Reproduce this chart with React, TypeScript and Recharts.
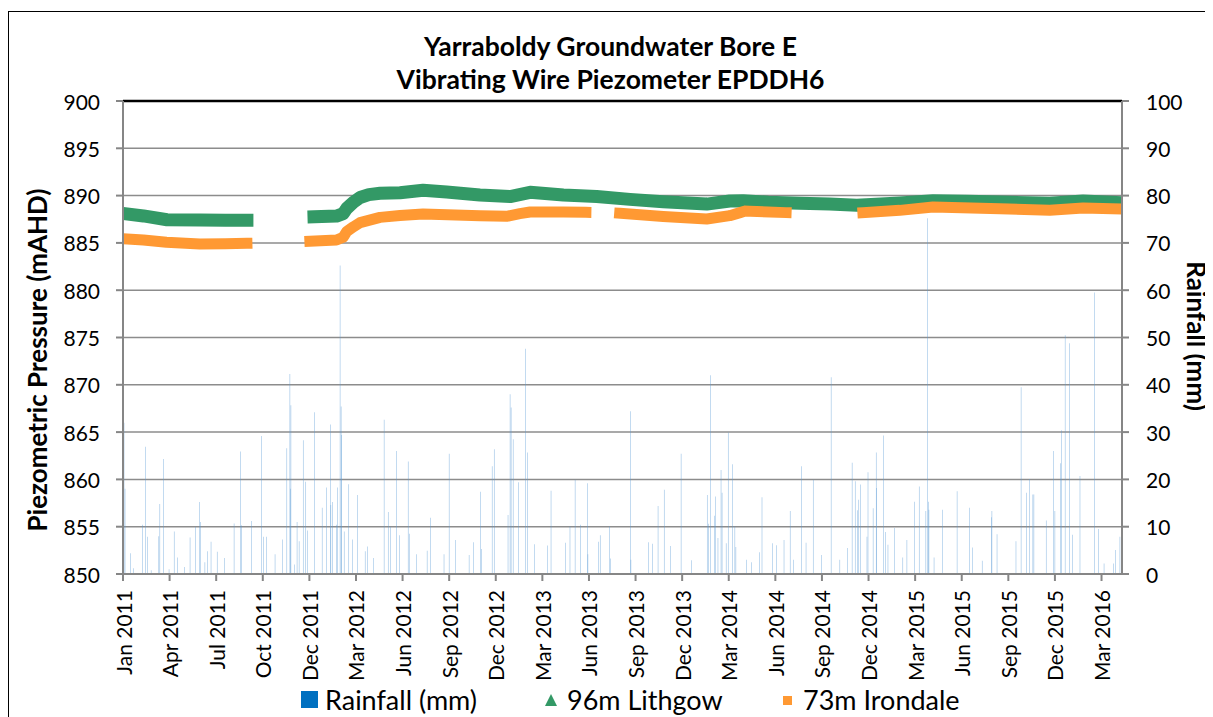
import { ComposedChart, Bar, Line, XAxis, YAxis, CartesianGrid, ReferenceLine } from 'recharts'

// days counted from 1 Jan 2011
const RAIN_DAYS = [
  2, 4, 15, 20, 38, 44, 48, 55, 70, 72, 79, 90, 100, 106, 120, 131, 142, 149, 151, 160,
  165, 172, 184, 198, 217, 229, 231, 251, 271, 274, 280, 297, 312, 320, 326, 327, 328,
  335, 340, 344, 352, 357, 360, 374, 389, 398, 405, 406, 409, 417, 419, 424, 426, 427,
  432, 441, 448, 458, 473, 478, 489, 510, 518, 522, 534, 540, 557, 559, 573, 594, 601,
  627, 637, 649, 676, 685, 698, 700, 721, 725, 752, 756, 758, 762, 772, 786, 790, 804,
  829, 836, 864, 873, 883, 894, 907, 908, 929, 932, 950, 952, 991, 992, 1026, 1034,
  1045, 1057, 1069, 1090, 1110, 1141, 1143, 1147, 1155, 1157, 1162, 1168, 1170, 1178,
  1182, 1190, 1195, 1197, 1218, 1227, 1243, 1248, 1268, 1276, 1291, 1303, 1310, 1325,
  1334, 1348, 1364, 1383, 1400, 1415, 1424, 1430, 1434, 1437, 1440, 1453, 1455, 1465,
  1471, 1472, 1485, 1489, 1494, 1507, 1523, 1531, 1546, 1555, 1568, 1571, 1573, 1574,
  1584, 1600, 1629, 1653, 1659, 1678, 1696, 1697, 1707, 1744, 1754, 1765, 1770, 1777,
  1779, 1803, 1817, 1820, 1831, 1833, 1840, 1848, 1854, 1869, 1897, 1905, 1916, 1934,
  1938, 1947,
]
const RAIN_MM = [
  32, 18, 4.4, 1.2, 10.4, 26.9, 7.9, 0.8, 8, 14.8, 24.3, 1, 9, 3.5, 1.5, 7.7, 10, 15.2, 11, 2.5,
  4.8, 6.8, 4.7, 3.4, 10.7, 25.9, 10.3, 11.2, 29.2, 7.9, 7.9, 4.2, 7.3, 26.6, 42.3, 18, 35.7,
  2, 11, 6.9, 28.3, 19.5, 9.2, 34.2, 14, 18.3, 31.6, 14.6, 15.2, 10.4, 18.3, 65.2, 35.4, 29.4,
  9, 19, 7.3, 16.7, 4.8, 5.8, 3.4, 32.6, 13.1, 10, 26, 8.2, 23.8, 8.5, 4.2, 4.9, 11.9,
  4.2, 25.4, 7.2, 4, 6.7, 17.4, 5.3, 22.8, 26.4, 12.5, 38, 35.2, 28.5, 19.4, 47.6, 25.7, 6.3,
  6, 17.6, 6.6, 10.1, 19.9, 10.4, 19.2, 4.2, 6.8, 8.2, 10.1, 3.3, 34.4, 3, 6.7, 6.4,
  14.4, 17.8, 5.9, 25.4, 2.9, 16.7, 10.6, 42, 12.3, 16.4, 7.6, 22, 17.2, 6.5,
  29.9, 23.2, 10.1, 5.7, 3, 2.5, 4.6, 16.2, 6.5, 6.1, 7.2, 13.3, 3, 22.8,
  6.6, 19.9, 4, 41.6, 3, 5.5, 23.5, 19.6, 13.5, 15.7, 18.9, 7.9, 21.5, 13.9,
  25.7, 18.2, 29.3, 8.9, 6.2, 9.7, 3.5, 7.2, 15.3, 18.5, 13.3, 75.2, 15.3, 13.6,
  3.5, 13.6, 17.5, 14, 5.6, 2.8, 12, 13.3, 8.4, 6.9, 39.5, 17.2, 20.1, 16.8,
  16.8, 11.3, 26, 13.3, 23.4, 30.4, 50.5, 48.8, 8.3, 20.7, 59.5, 9.5, 2.2, 2.2,
  5.1, 7.9,
]

const LITHGOW_DAYS = [
  0, 40, 86, 150, 200, 242, 300, 373, 417, 430, 437, 450, 463, 480, 502, 541, 586, 632, 697,
  756, 795, 860, 925, 990, 1055, 1140, 1185, 1211, 1260, 1322, 1380, 1433, 1480, 1517, 1582,
  1650, 1713, 1810, 1875, 1948,
]
const LITHGOW = [
  888.1, 887.85, 887.45, 887.42, 887.4, 887.4, null, 887.77, 887.84, 888.1, 888.65, 889.3, 889.8,
  890.1, 890.24, 890.3, 890.56, 890.38, 890.06, 889.9, 890.35, 890.06, 889.9, 889.6, 889.36,
  889.1, 889.43, 889.46, 889.3, 889.18, 889.1, 888.97, 889.1, 889.22, 889.46, 889.4, 889.32,
  889.18, 889.43, 889.25,
]

const IRONDALE_DAYS = [
  0, 40, 85, 150, 200, 242, 300, 365, 417, 430, 437, 450, 463, 502, 541, 586, 697, 749, 775,
  795, 860, 904, 935, 970, 1055, 1140, 1185, 1205, 1214, 1223, 1295, 1370, 1445, 1517, 1582,
  1713, 1810, 1875, 1948,
]
const IRONDALE = [
  885.45, 885.3, 885.06, 884.88, 884.9, 884.95, null, 885.17, 885.3, 885.6, 886.2, 886.7, 887.14,
  887.7, 887.9, 888.06, 887.88, 887.81, 888.1, 888.27, 888.27, 888.23, null, 888.13, 887.78,
  887.53, 887.88, 888.2, null, 888.34, 888.2, null, 888.2, 888.44, 888.8, 888.62, 888.44,
  888.69, 888.58,
]

const X_TICK_LABELS = [
  'Jan 2011', 'Apr 2011', 'Jul 2011', 'Oct 2011', 'Dec 2011', 'Mar 2012', 'Jun 2012', 'Sep 2012',
  'Dec 2012', 'Mar 2013', 'Jun 2013', 'Sep 2013', 'Dec 2013', 'Mar 2014', 'Jun 2014', 'Sep 2014',
  'Dec 2014', 'Mar 2015', 'Jun 2015', 'Sep 2015', 'Dec 2015', 'Mar 2016',
]
const TICK_STEP = 91 // Excel major unit, in days
const X_TICKS = X_TICK_LABELS.map((_, i) => i * TICK_STEP)
const P_TICKS = [850, 855, 860, 865, 870, 875, 880, 885, 890, 895, 900]
const RAIN_TICKS = [0, 10, 20, 30, 40, 50, 60, 70, 80, 90, 100]

const rainData = RAIN_DAYS.map((day, i) => ({ day, rain: RAIN_MM[i] }))
const lithgowData = LITHGOW_DAYS.map((day, i) => ({ day, lithgow: LITHGOW[i] }))
const irondaleData = IRONDALE_DAYS.map((day, i) => ({ day, irondale: IRONDALE[i] }))

const FONT = 'Lato, "Open Sans", sans-serif'
const AXIS = '#868686'

const DateTick = ({ x, y, index }: any) => (
  <text
    x={x}
    y={y}
    transform={`rotate(-90 ${x} ${y})`}
    textAnchor="end"
    dominantBaseline="central"
    fontSize={21}
    fontFamily={FONT}
    fill="#000"
  >
    {X_TICK_LABELS[index] ?? ''}
  </text>
)

const ValueTick = ({ x, y, payload, anchor }: any) => (
  <text x={x} y={y} textAnchor={anchor} dominantBaseline="central" fontSize={21} fontFamily={FONT} fill="#000">
    {payload.value}
  </text>
)

export default function App() {
  return (
    <div
      style={{
        position: 'relative',
        width: 1205,
        height: 709,
        overflow: 'hidden',
        fontFamily: FONT,
        color: '#000',
      }}
    >
      {/* the chart fills the window down to its bottom edge; keep scrollbars away */}
      <style>{'html, body { overflow: hidden; }'}</style>
      <div
        style={{
          position: 'absolute',
          left: 0,
          width: 1205,
          top: 22,
          textAlign: 'center',
          fontWeight: 700,
          fontSize: 26.5,
          lineHeight: '33px',
        }}
      >
        <div>Yarraboldy Groundwater Bore E</div>
        <div>Vibrating Wire Piezometer EPDDH6</div>
      </div>

      <ComposedChart
        width={1205}
        height={709}
        data={rainData}
        margin={{ top: 93, right: 31, bottom: 43, left: 35 }}
        style={{ position: 'absolute', left: 0, top: 0 }}
      >
        <CartesianGrid yAxisId="p" vertical={false} stroke="#8c8c8c" strokeWidth={1.5} />
        <XAxis
          dataKey="day"
          type="number"
          domain={[0, 1951]}
          ticks={X_TICKS}
          interval={0}
          height={100}
          tick={<DateTick />}
          tickSize={7}
          tickMargin={9}
          stroke={AXIS}
          strokeWidth={2}
          allowDataOverflow
        />
        <YAxis
          yAxisId="p"
          domain={[850, 900]}
          ticks={P_TICKS}
          interval={0}
          width={80}
          tickSize={7}
          tickMargin={16}
          stroke={AXIS}
          strokeWidth={2}
          tick={<ValueTick anchor="end" />}
          allowDataOverflow
        />
        <YAxis
          yAxisId="rain"
          orientation="right"
          domain={[0, 100]}
          ticks={RAIN_TICKS}
          interval={0}
          width={60}
          tickSize={7}
          tickMargin={17}
          stroke={AXIS}
          strokeWidth={2}
          tick={<ValueTick anchor="start" />}
        />
        <ReferenceLine yAxisId="p" y={900} stroke="#000" strokeWidth={2.5} />
        <Bar
          yAxisId="rain"
          dataKey="rain"
          name="Rainfall (mm)"
          fill="#5B9BD5"
          fillOpacity={0.8}
          barSize={1}
          isAnimationActive={false}
        />
        <Line
          yAxisId="p"
          data={lithgowData}
          dataKey="lithgow"
          name="96m Lithgow"
          type="linear"
          stroke="#339966"
          strokeWidth={13}
          strokeLinecap="square"
          strokeLinejoin="round"
          dot={false}
          connectNulls={false}
          isAnimationActive={false}
        />
        <Line
          yAxisId="p"
          data={irondaleData}
          dataKey="irondale"
          name="73m Irondale"
          type="linear"
          stroke="#FF9933"
          strokeWidth={11}
          strokeLinecap="square"
          strokeLinejoin="round"
          dot={false}
          connectNulls={false}
          isAnimationActive={false}
        />
      </ComposedChart>

      <div
        style={{
          position: 'absolute',
          left: 29,
          top: 352,
          transform: 'translate(-50%, -50%) rotate(-90deg)',
          whiteSpace: 'nowrap',
          fontWeight: 700,
          fontSize: 26,
          lineHeight: '28px',
        }}
      >
        Piezometric Pressure (mAHD)
      </div>
      <div
        style={{
          position: 'absolute',
          left: 1189,
          top: 328,
          transform: 'translate(-50%, -50%) rotate(90deg)',
          whiteSpace: 'nowrap',
          fontWeight: 700,
          fontSize: 26,
          lineHeight: '28px',
        }}
      >
        Rainfall (mm)
      </div>

      <div style={{ position: 'absolute', top: 677, left: 0, fontSize: 27, lineHeight: '30px' }}>
        <span style={{ position: 'absolute', left: 293, top: 6, width: 17, height: 17, background: '#0070C0' }} />
        <span style={{ position: 'absolute', left: 317, top: 0, whiteSpace: 'nowrap' }}>Rainfall (mm)</span>
        <svg style={{ position: 'absolute', left: 536, top: 8 }} width={14} height={14}>
          <polygon points="7,1 13,13 1,13" fill="#339966" />
        </svg>
        <span style={{ position: 'absolute', left: 559, top: 0, whiteSpace: 'nowrap' }}>96m Lithgow</span>
        <span style={{ position: 'absolute', left: 775, top: 11, width: 9, height: 9, background: '#FF9933' }} />
        <span style={{ position: 'absolute', left: 795, top: 0, whiteSpace: 'nowrap' }}>73m Irondale</span>
      </div>

      <div
        style={{
          position: 'absolute',
          left: 0,
          top: 3,
          width: 1205,
          height: 706,
          borderTop: '1.5px solid #000',
          borderLeft: '1.5px solid #000',
          boxSizing: 'border-box',
          pointerEvents: 'none',
        }}
      />
    </div>
  )
}
